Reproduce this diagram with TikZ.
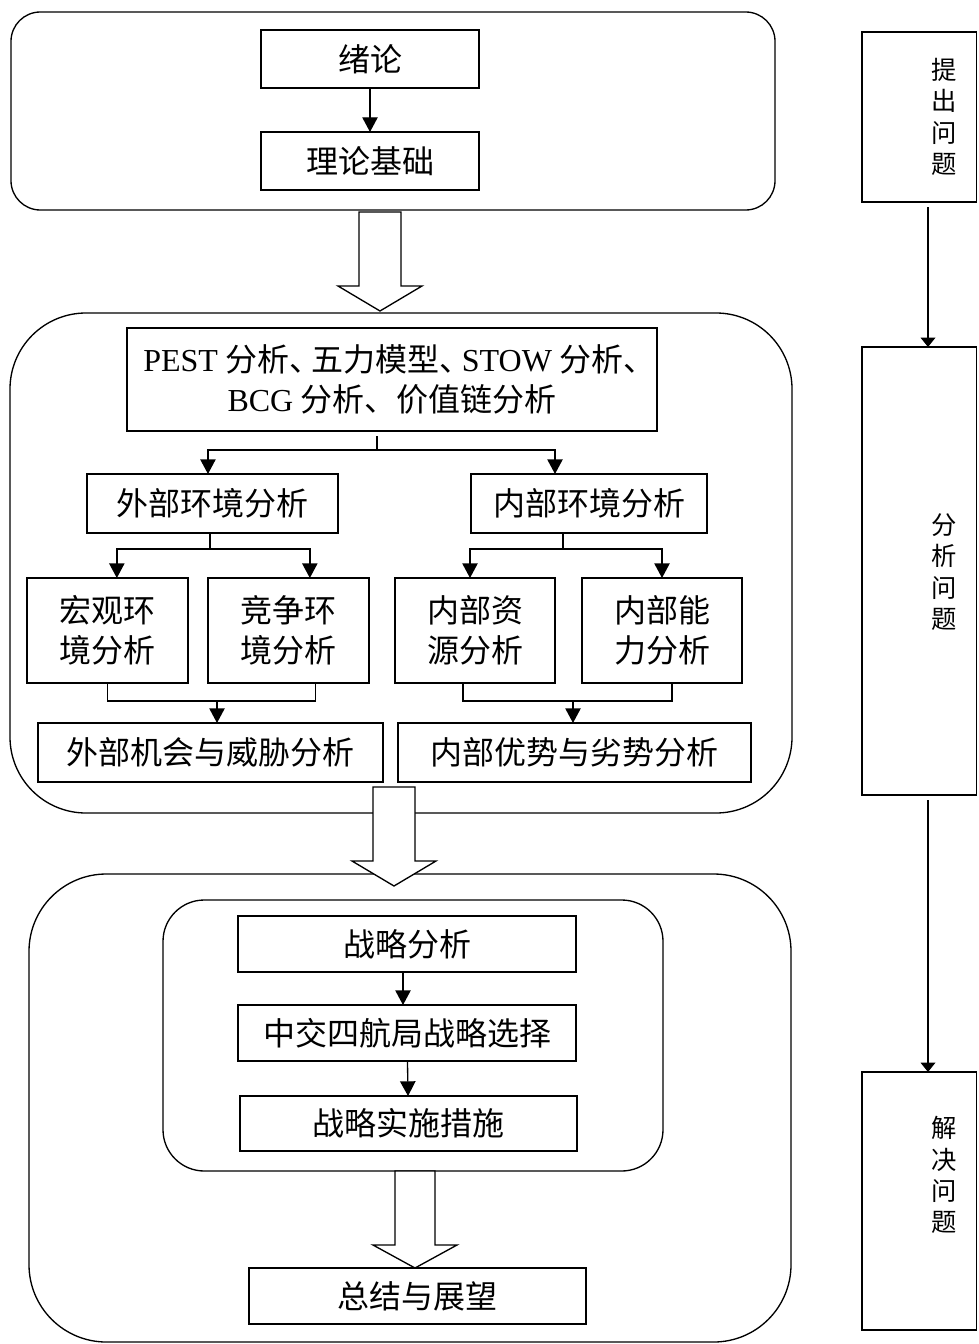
\documentclass[tikz,border=0pt]{standalone}
\usepackage{fontspec}
\setmainfont{Liberation Serif}
\newfontfamily\cjk{Noto Sans CJK SC}
\usetikzlibrary{fit,arrows.meta,calc}
\newcommand\bx[6]{\node[box, minimum width={(#4-#2)*0.75pt}, minimum height={(#5-#3)*0.75pt}] (#1) at ({(#2+#4)/2},{(#3+#5)/2}) {#6};}
\begin{document}
\begin{tikzpicture}[x=0.75pt,y=-0.75pt,
  every node/.style={inner sep=0pt, outer sep=0pt},
  box/.style={draw, line width=1pt, fill=white, font=\cjk\fontsize{24pt}{30pt}\selectfont, align=center},
  rbox/.style={draw, line width=1pt, rounded corners=#1},
  arr/.style={line width=1pt, -{Triangle[length=11pt,width=11.5pt]}},
  arrsmall/.style={line width=1pt, -{Triangle[length=7pt,width=11pt]}},
  ln/.style={line width=1pt},
  blk/.style={draw, line width=1pt, fill=white, line join=miter},
  rtext/.style={font=\cjk\fontsize{19pt}{23.5pt}\selectfont, align=center}
]
\useasboundingbox (0,0) rectangle (978,1344);

% rounded containers
\node[rbox=22pt, fit={(11,12) (775,210)}] (top) {};
\node[rbox=57pt, fit={(10,313) (792,813)}] (mid) {};
\node[rbox=58pt, fit={(29,874) (791,1342)}] (bot) {};
\node[rbox=31pt, fit={(163,900) (663,1171)}] (inner) {};

% boxes
\bx{xl}{261}{30}{479}{88}{绪论}
\bx{ll}{261}{132}{479}{190}{理论基础}
\bx{pest}{127}{328}{657}{431}{{\rmfamily PEST} 分析、\kern-.3em 五力模型、\kern-.3em{\rmfamily STOW} 分析、\kern-.45em\\{\rmfamily BCG} 分析、价值链分析}
\bx{ext}{87}{474}{338}{533}{外部环境分析}
\bx{int}{471}{474}{707}{533}{内部环境分析}
\bx{mac}{27}{578}{188}{683}{宏观环\\境分析}
\bx{com}{208}{578}{369}{683}{竞争环\\境分析}
\bx{res}{395}{578}{555}{683}{内部资\\源分析}
\bx{cap}{582}{578}{742}{683}{内部能\\力分析}
\bx{ot}{38}{723}{383}{782}{外部机会与威胁分析}
\bx{sw}{398}{723}{751}{782}{内部优势与劣势分析}
\bx{sa}{238}{916}{576}{972}{战略分析}
\bx{ss}{238}{1005}{576}{1061}{中交四航局战略选择}
\bx{si}{240}{1096}{577}{1151}{战略实施措施}
\bx{sum}{249}{1268}{586}{1324}{总结与展望}

% right column
\bx{r1}{862}{32}{976.5}{202}{}
\node[rtext] (r1t) at (944,117) {提\\出\\问\\题};
\bx{r2}{862}{347}{976.5}{795}{}
\node[rtext] (r2t) at (944,572) {分\\析\\问\\题};
\bx{r3}{862}{1072}{976.5}{1330}{}
\node[rtext] (r3t) at (944,1175) {解\\决\\问\\题};

% connectors
\draw[arr] (xl) -- (ll);

\coordinate (pj) at (377,450);
\draw[ln] ([yshift=-4pt]pest.south -| pj) -- (pj);
\draw[arr] (pj) -| ([xshift=-3.4pt]ext.north);
\draw[arr] (pj) -| ([xshift=-25.5pt]int.north);

\coordinate (ej) at (210,549);
\draw[ln] (ext.south -| ej) -- (ej);
\draw[arr] (ej) -| ([xshift=7pt]mac.north);
\draw[arr] (ej) -| ([xshift=16pt]com.north);

\coordinate (ij) at (563,549);
\draw[ln] (int.south -| ij) -- (ij);
\draw[arr] (ij) -| ([xshift=-3.75pt]res.north);
\draw[arr] (ij) -| (cap.north);

\coordinate (em) at (217,701);
\draw[ln] (mac.south) |- (em);
\draw[ln] ([xshift=20pt]com.south) |- (em);
\draw[arr] (em) -- (ot.north -| em);

\coordinate (im) at (573,701);
\draw[ln] ([xshift=-9pt]res.south) |- (im);
\draw[ln] ([xshift=7.5pt]cap.south) |- (im);
\draw[arr] (im) -- (sw.north -| im);

\draw[arr] ([xshift=-3pt]sa.south) -- ([xshift=-3pt]ss.north);
\draw[arr] (ss) -- (si);

\coordinate (rc) at (928,0);
\draw[arrsmall] ([yshift=-4pt]r1.south -| rc) -- (r2.north -| rc);
\draw[arrsmall] ([yshift=-4pt]r2.south -| rc) -- (r3.north -| rc);

% block arrows
\coordinate (b1) at (380,212);
\draw[blk] (b1) ++(-21,0) -- ++(0,74) -- ++(-21,0) -- ++(42,25) -- ++(42,-25) -- ++(-21,0) -- ++(0,-74) -- cycle;
\coordinate (b2) at (394,787);
\draw[blk] (b2) ++(-21,0) -- ++(0,74) -- ++(-21,0) -- ++(42,25) -- ++(42,-25) -- ++(-21,0) -- ++(0,-74) -- cycle;
\coordinate (b3) at (415,1171);
\draw[blk] (b3) ++(-20,0) -- ++(0,74) -- ++(-22,0) -- ++(42,23) -- ++(42,-23) -- ++(-22,0) -- ++(0,-74) -- cycle;
\end{tikzpicture}
\end{document}
